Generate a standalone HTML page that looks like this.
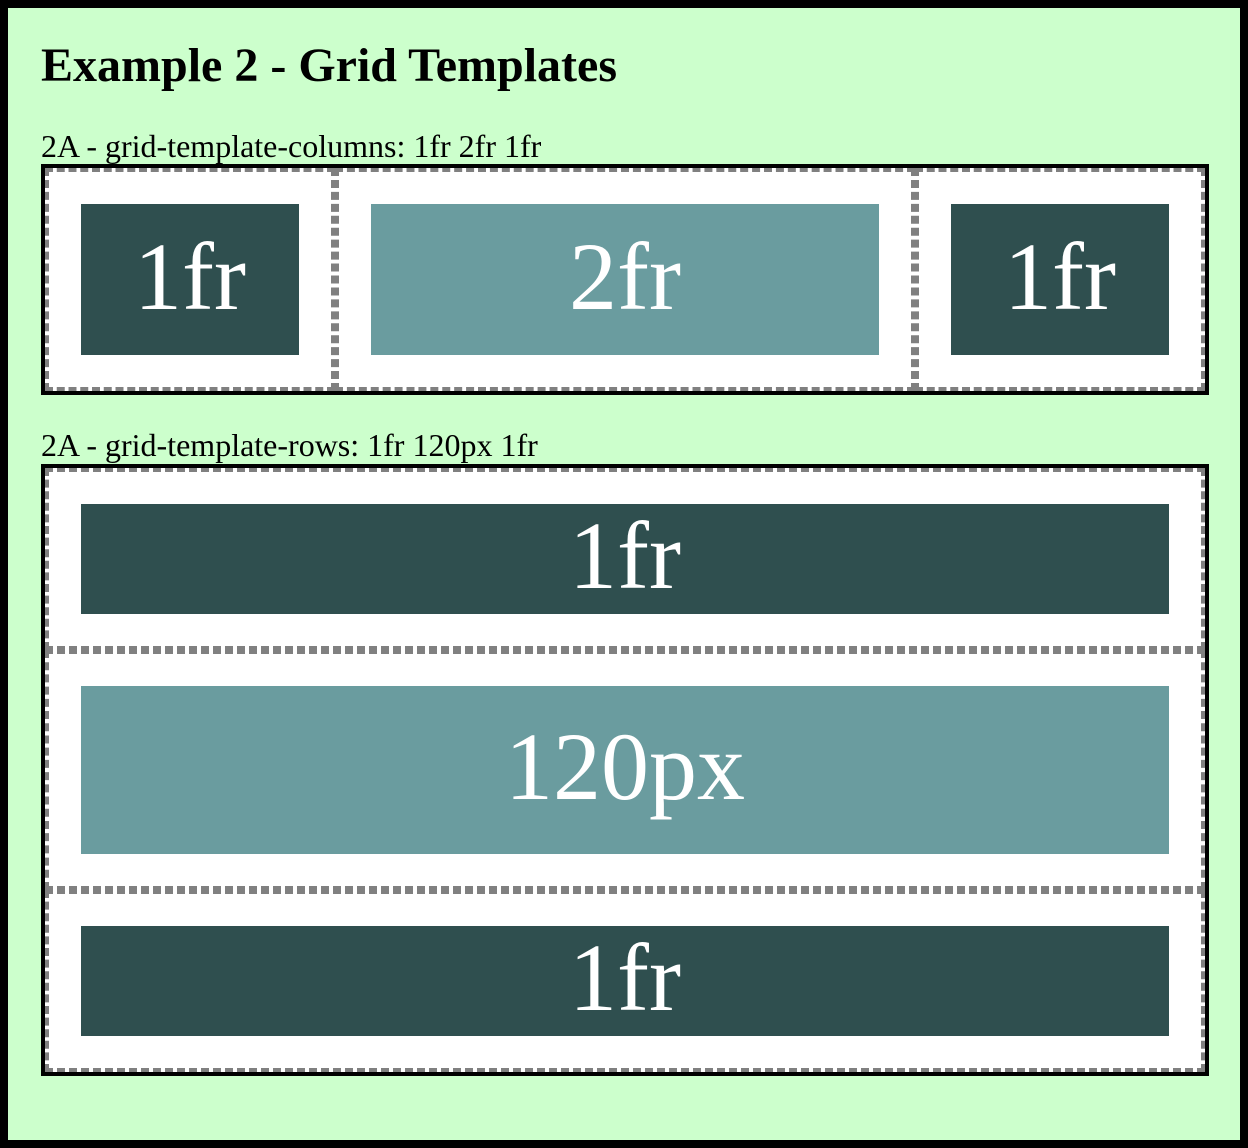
<!DOCTYPE html>
<html><head><meta charset="utf-8"><style>
html,body{margin:0;padding:0;width:1248px;height:1148px;overflow:hidden;background:#fff;}
.frame{position:absolute;left:0;top:0;width:1232px;height:1132px;border:8px solid #000;background:#ccffcc;}
h1{position:absolute;left:41px;top:41px;margin:0;font:bold 48px "Liberation Serif",serif;line-height:50px;white-space:nowrap;letter-spacing:0px;}
.lbl{position:absolute;left:41px;font:32px "Liberation Serif",serif;line-height:36px;white-space:nowrap;}
.grid{position:absolute;border:4px solid #000;box-sizing:border-box;}
.cell{position:absolute;border:4px dashed #808080;background:#fff;box-sizing:border-box;}
.item{position:absolute;display:flex;align-items:center;justify-content:center;color:#fff;font:96px "Liberation Serif",serif;line-height:96px;padding-bottom:6px;box-sizing:border-box;}
.dark{background:#2f4f4f;}.light{background:#6a9c9f;}
</style></head><body>
<div class="frame"></div>
<h1>Example 2 - Grid Templates</h1>
<div class="lbl" style="top:128px">2A - grid-template-columns: 1fr 2fr 1fr</div>
<div class="grid" style="left:41px;top:164px;width:1168px;height:231px"></div>
<div class="cell" style="left:45px;top:168px;width:290px;height:223px"></div>
<div class="cell" style="left:335px;top:168px;width:580px;height:223px"></div>
<div class="cell" style="left:915px;top:168px;width:290px;height:223px"></div>
<div class="item dark" style="left:81px;top:204px;width:218px;height:151px">1fr</div>
<div class="item light" style="left:371px;top:204px;width:508px;height:151px">2fr</div>
<div class="item dark" style="left:951px;top:204px;width:218px;height:151px">1fr</div>

<div class="lbl" style="top:427px">2A - grid-template-rows: 1fr 120px 1fr</div>
<div class="grid" style="left:41px;top:464px;width:1168px;height:612px"></div>
<div class="cell" style="left:45px;top:468px;width:1160px;height:182px"></div>
<div class="cell" style="left:45px;top:650px;width:1160px;height:240px"></div>
<div class="cell" style="left:45px;top:890px;width:1160px;height:182px"></div>
<div class="item dark" style="left:81px;top:504px;width:1088px;height:110px">1fr</div>
<div class="item light" style="left:81px;top:686px;width:1088px;height:168px">120px</div>
<div class="item dark" style="left:81px;top:926px;width:1088px;height:110px">1fr</div>
</body></html>
